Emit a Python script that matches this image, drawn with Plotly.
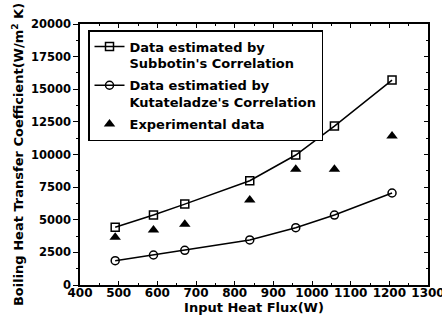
import plotly.graph_objects as go

# Input heat flux (W)
heat_flux = [491, 590, 671, 839, 958, 1058, 1207]
# Boiling heat transfer coefficient (W/m^2 K)
subbotin = [4420, 5360, 6200, 7990, 9960, 12180, 15700]
kutateladze = [1860, 2300, 2660, 3450, 4390, 5360, 7050]
experimental = [3650, 4210, 4650, 6510, 8870, 8870, 11420]

x_ticks = [400, 500, 600, 700, 800, 900, 1000, 1100, 1200, 1300]
y_ticks = [0, 2500, 5000, 7500, 10000, 12500, 15000, 17500, 20000]

fig = go.Figure()
fig.add_trace(go.Scatter(
    x=heat_flux, y=subbotin, mode="lines+markers", legendgroup="a",
    name="Data estimated by<br>Subbotin's Correlation",
    line=dict(color="black", width=1.5),
    marker=dict(symbol="square-open", size=8, color="black", line=dict(width=1.5)),
))
fig.add_trace(go.Scatter(
    x=heat_flux, y=kutateladze, mode="lines+markers", legendgroup="b",
    name="Data estimatied by<br>Kutateladze's Correlation",
    line=dict(color="black", width=1.5),
    marker=dict(symbol="circle-open", size=8, color="black", line=dict(width=1.5)),
))
fig.add_trace(go.Scatter(
    x=heat_flux, y=experimental, mode="markers", legendgroup="c",
    name="Experimental data",
    marker=dict(symbol="triangle-up", size=10, color="black"),
))
# companion right-hand axis carrying the inward ticks
fig.add_trace(go.Scatter(
    x=heat_flux, y=subbotin, yaxis="y2", mode="markers",
    marker=dict(opacity=0), showlegend=False, hoverinfo="skip",
))

bold_font = dict(family="DejaVu Sans", size=12, color="black", weight="bold")

fig.update_layout(
    width=442, height=336,
    margin=dict(l=80, r=14, t=24, b=51),
    paper_bgcolor="white", plot_bgcolor="white",
    font=dict(family="DejaVu Sans", color="black"),
    showlegend=True,
    legend=dict(
        x=0.023, y=0.977, xanchor="left", yanchor="top",
        bgcolor="white", bordercolor="black", borderwidth=1.5,
        font=dict(family="DejaVu Sans", size=13, color="black", weight="bold"),
        itemwidth=30, valign="top", tracegroupgap=2,
    ),
    xaxis=dict(
        range=[400, 1300], tickvals=x_ticks, ticktext=[str(v) for v in x_ticks],
        ticks="inside", ticklen=4, tickwidth=1.2, tickcolor="black",
        minor=dict(dtick=50, ticks="inside", ticklen=2, tickcolor="black"),
        showline=True, linecolor="black", linewidth=1.5, mirror="ticks",
        showgrid=False, zeroline=False, tickfont=bold_font, automargin=False,
        ticklabeloverflow="allow", ticklabelstandoff=-4,
        title=dict(text="Input Heat Flux(W)", standoff=2,
                   font=dict(family="DejaVu Sans", size=13, color="black", weight="bold")),
    ),
    yaxis=dict(
        range=[0, 20000], tickvals=y_ticks, ticktext=[str(v) for v in y_ticks],
        ticks="outside", ticklen=5, tickwidth=1.2, tickcolor="black",
        minor=dict(dtick=1250, ticks="outside", ticklen=2, tickcolor="black"),
        showline=True, linecolor="black", linewidth=1.5, mirror=True,
        showgrid=False, zeroline=False, automargin=False,
        tickfont=dict(family="DejaVu Sans", size=11.5, color="black", weight="bold"),
        title=dict(text="Boiling Heat Transfer Coefficient(W/m<sup>2</sup> K)", standoff=4,
                   font=dict(family="DejaVu Sans", size=13, color="black", weight="bold")),
    ),
    yaxis2=dict(
        overlaying="y", side="right", matches="y", range=[0, 20000],
        tickvals=y_ticks, showticklabels=False, automargin=False,
        ticks="inside", ticklen=4, tickwidth=1.2, tickcolor="black",
        minor=dict(dtick=1250, ticks="inside", ticklen=2, tickcolor="black"),
        showline=False, showgrid=False, zeroline=False,
    ),
)

fig.write_html("out.html")
